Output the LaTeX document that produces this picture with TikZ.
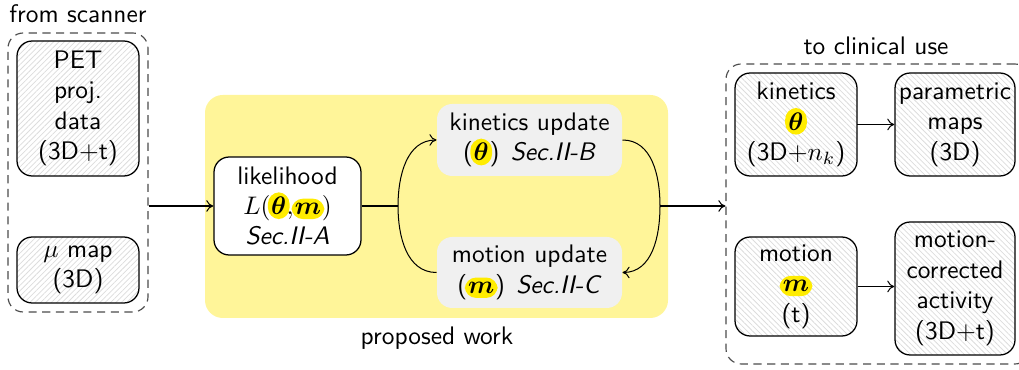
\documentclass[tikz,border=0pt]{standalone}
\usepackage{fontspec}
\usepackage{amsmath,bm}
\usetikzlibrary{patterns.meta,arrows.meta}

\definecolor{bgyellow}{RGB}{255,245,153}
\definecolor{hlyellow}{RGB}{255,236,0}
\definecolor{updgray}{RGB}{240,240,240}
\definecolor{hatchgray}{RGB}{220,220,220}

% one unit of the drawing grid
\newcommand\pxu{0.394pt}
% yellow highlight behind a symbol
\newcommand\hlsym[1]{\tikz[baseline=(hs.base)]\node[minimum width=0pt,minimum height=0pt,
  draw=none,fill=hlyellow,rounded corners=4.5pt,inner xsep=1.3pt,inner ysep=1.8pt](hs){$#1$};}

\tikzset{
  box/.style={draw, rounded corners=6pt, line width=0.5pt, align=center,
    inner sep=1pt, font=\sffamily},
  hatchR/.style={box, pattern={Lines[angle=45,distance=1.5pt,line width=0.3pt]},
    pattern color=hatchgray},
  hatchL/.style={box, pattern={Lines[angle=-45,distance=1.5pt,line width=0.3pt]},
    pattern color=hatchgray},
  upd/.style={fill=updgray, rounded corners=6pt, align=center, inner sep=1pt,
    font=\sffamily},
  group/.style={draw=black!70, dash pattern=on 3.2pt off 2.2pt, line width=0.45pt,
    rounded corners=6pt},
  lbl/.style={font=\sffamily, inner sep=0pt},
  arr/.style={-{To[length=2.8pt,width=4.6pt]}, line width=0.4pt},
  wire/.style={line width=0.4pt},
}

\begin{document}
\begin{tikzpicture}[x=\pxu, y=-\pxu]
\useasboundingbox (0,0) rectangle (1019,370);

% proposed-work panel
\node[fill=bgyellow, rounded corners=7pt, minimum width=463*\pxu,
  minimum height=223*\pxu, inner sep=0pt] (panel) at (436.5,206.5) {};
\node[lbl] (plabel) at (437,338) {proposed work};

% scanner side
\node[lbl] (slabel) at (78,14) {from scanner};
\node[group, minimum width=140*\pxu, minimum height=279*\pxu] (src) at (78,172.5) {};
\node[hatchR, minimum width=122*\pxu, minimum height=135*\pxu] (pet) at (78,108.5)
  {PET\\proj.\\data\\(3D$+$t)};
\node[hatchR, minimum width=122*\pxu, minimum height=66*\pxu] (mu) at (78,270)
  {$\mu$ map\\(3D)};

% reconstruction blocks
\node[box, fill=white, minimum width=147*\pxu, minimum height=98*\pxu] (lik) at (287.5,206)
  {likelihood\\$L($\kern-1pt\hlsym{\bm\theta}\kern-1.2pt$,$\kern-0.8pt\hlsym{\bm m}\kern-1pt$)$\\\textit{Sec.II-A}};
\node[upd, minimum width=185*\pxu, minimum height=72*\pxu] (kin) at (529.5,140)
  {kinetics update\\(\kern-1pt\hlsym{\bm\theta}\kern-1pt)\hspace{4.5pt}\textit{Sec.II-B}};
\node[upd, minimum width=185*\pxu, minimum height=71*\pxu] (mot) at (529.5,272.5)
  {motion update\\(\kern-1pt\hlsym{\bm m}\kern-1pt)\hspace{4.5pt}\textit{Sec.II-C}};

% clinical side
\node[lbl] (clabel) at (876,46) {to clinical use};
\node[group, minimum width=304*\pxu, minimum height=300*\pxu] (dst) at (878,214) {};
\node[hatchL, minimum width=122*\pxu, minimum height=103*\pxu] (kn) at (796,124.5)
  {kinetics\\\hlsym{\bm\theta}\\(3D$+n_k$)};
\node[hatchL, minimum width=120*\pxu, minimum height=103*\pxu] (pm) at (955,124.5)
  {parametric\\maps\\(3D)};
\node[hatchL, minimum width=122*\pxu, minimum height=99*\pxu] (mo) at (796,286.5)
  {motion\\\hlsym{\bm m}\\(t)};
\node[hatchL, minimum width=120*\pxu, minimum height=133*\pxu] (mc) at (955,288.5)
  {motion-\\corrected\\activity\\(3D$+$t)};

% connectors
\coordinate (split) at (398,206);
\coordinate (merge) at (660,206);
\draw[arr] (src.east |- lik.west) -- (lik.west);
\draw[wire] (lik.east) -- (split);
\draw[arr] (split) to[out=90,in=180] (kin.west);
\draw[wire] (split) to[out=-90,in=180] (mot.west);
\draw[arr] (kin.east) to[out=0,in=90] (merge) to[out=-90,in=0] (mot.east);
\draw[arr] (merge) -- (merge -| dst.west);
\draw[arr] (kn.east) -- (kn.east -| pm.west);
\draw[arr] (mo.east) -- (mo.east -| mc.west);
\end{tikzpicture}
\end{document}
